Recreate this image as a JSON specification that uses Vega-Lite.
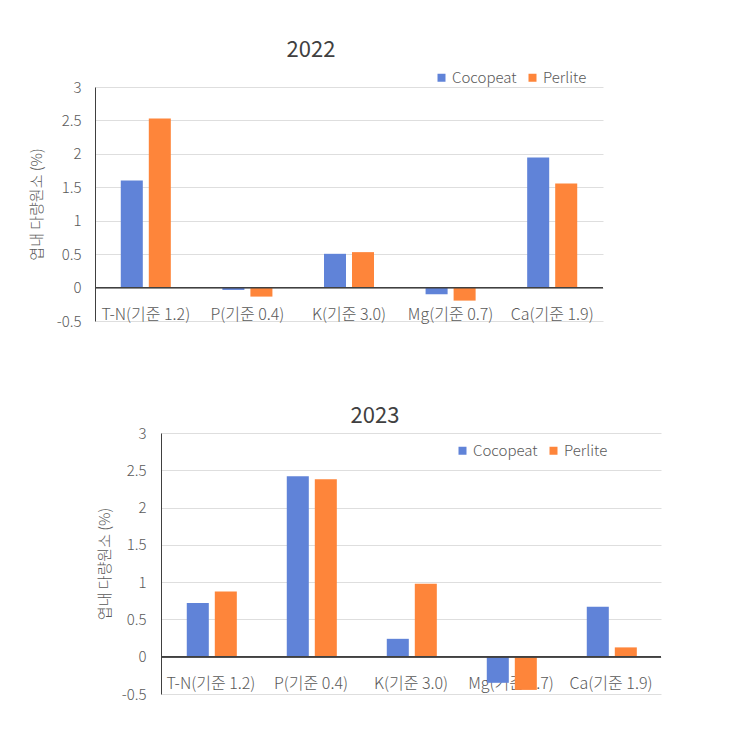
{
  "$schema": "https://vega.github.io/schema/vega-lite/v6.json",
  "background": "white",
  "padding": {"top": 39, "left": 29, "right": 5, "bottom": 5},
  "config": {
    "font": "Noto Sans CJK KR",
    "view": {"stroke": null},
    "axis": {"labelColor": "#595959", "labelFontSize": 15, "labelFontWeight": 300, "titleColor": "#595959", "titleFontSize": 15, "titleFontWeight": 300, "labelOverlap": false, "gridColor": "#dedede"},
    "axisX": {"labelFontSize": 16},
    "legend": {"labelColor": "#595959", "labelFontSize": 15, "labelFontWeight": 300, "symbolType": "square", "symbolSize": 64, "symbolStrokeWidth": 0, "labelOffset": 3, "columnPadding": 8, "padding": 0, "direction": "horizontal"},
    "title": {"fontSize": 22, "fontWeight": "normal", "color": "#404040", "anchor": "middle"}
  },
  "datasets": {
    "y2022": [
      {"nutrient": "T-N(기준 1.2)", "media": "Cocopeat", "value": 1.6},
      {"nutrient": "T-N(기준 1.2)", "media": "Perlite", "value": 2.53},
      {"nutrient": "P(기준 0.4)", "media": "Cocopeat", "value": -0.035},
      {"nutrient": "P(기준 0.4)", "media": "Perlite", "value": -0.135},
      {"nutrient": "K(기준 3.0)", "media": "Cocopeat", "value": 0.505},
      {"nutrient": "K(기준 3.0)", "media": "Perlite", "value": 0.53},
      {"nutrient": "Mg(기준 0.7)", "media": "Cocopeat", "value": -0.1},
      {"nutrient": "Mg(기준 0.7)", "media": "Perlite", "value": -0.195},
      {"nutrient": "Ca(기준 1.9)", "media": "Cocopeat", "value": 1.945},
      {"nutrient": "Ca(기준 1.9)", "media": "Perlite", "value": 1.555}
    ],
    "y2023": [
      {"nutrient": "T-N(기준 1.2)", "media": "Cocopeat", "value": 0.72},
      {"nutrient": "T-N(기준 1.2)", "media": "Perlite", "value": 0.875},
      {"nutrient": "P(기준 0.4)", "media": "Cocopeat", "value": 2.42},
      {"nutrient": "P(기준 0.4)", "media": "Perlite", "value": 2.38},
      {"nutrient": "K(기준 3.0)", "media": "Cocopeat", "value": 0.24},
      {"nutrient": "K(기준 3.0)", "media": "Perlite", "value": 0.98},
      {"nutrient": "Mg(기준 0.7)", "media": "Cocopeat", "value": -0.35},
      {"nutrient": "Mg(기준 0.7)", "media": "Perlite", "value": -0.445},
      {"nutrient": "Ca(기준 1.9)", "media": "Cocopeat", "value": 0.67},
      {"nutrient": "Ca(기준 1.9)", "media": "Perlite", "value": 0.125}
    ]
  },
  "resolve": {"scale": {"color": "independent"}, "legend": {"color": "independent"}},
  "spacing": 76,
  "vconcat": [
    {
      "width": 508,
      "height": 234,
      "title": {"text": "2022", "dx": -38, "offset": 8},
      "data": {"name": "y2022"},
      "layer": [
        {
          "mark": {"type": "bar"},
          "encoding": {
            "x": {"field": "nutrient", "type": "nominal", "sort": null,
                  "scale": {"paddingInner": 0, "paddingOuter": 0},
                  "axis": {"title": null, "labelAngle": 0, "domain": false, "ticks": false, "labelPadding": -15, "labelBaseline": "top"}},
            "xOffset": {"field": "media", "type": "nominal", "scale": {"paddingInner": 0.214, "paddingOuter": 0.92}},
            "y": {"field": "value", "type": "quantitative",
                  "scale": {"domain": [-0.5, 3], "nice": false, "zero": false},
                  "axis": {"title": "엽내 다량원소 (%)", "values": [-0.5, 0, 0.5, 1, 1.5, 2, 2.5, 3], "tickCount": 20, "labelExpr": "'' + datum.value", "ticks": false, "labelPadding": 14, "titlePadding": 12, "domain": true, "domainColor": "#404040"}},
            "color": {"field": "media", "type": "nominal",
                      "scale": {"domain": ["Cocopeat", "Perlite"], "range": ["#6083D8", "#FE853A"]},
                      "legend": {"title": null, "orient": "none", "legendX": 339, "legendY": -17}}
          }
        },
        {
          "mark": {"type": "rule", "color": "#404040", "strokeWidth": 1},
          "encoding": {"y": {"datum": 0}}
        }
      ]
    },
    {
      "spacing": 0,
      "hconcat": [
        {"width": 2, "height": 10, "data": {"values": []}, "mark": "point"},
        {
          "width": 500,
          "height": 261,
          "title": {"text": "2023", "dx": -36, "offset": -2},
          "data": {"name": "y2023"},
          "layer": [
            {
              "mark": {"type": "bar"},
              "encoding": {
                "x": {"field": "nutrient", "type": "nominal", "sort": null,
                      "scale": {"paddingInner": 0, "paddingOuter": 0},
                      "axis": {"title": null, "labelAngle": 0, "domain": false, "ticks": false, "labelPadding": -19, "labelBaseline": "top"}},
                "xOffset": {"field": "media", "type": "nominal", "scale": {"paddingInner": 0.23, "paddingOuter": 0.88}},
                "y": {"field": "value", "type": "quantitative",
                      "scale": {"domain": [-0.5, 3], "nice": false, "zero": false},
                      "axis": {"title": "엽내 다량원소 (%)", "values": [-0.5, 0, 0.5, 1, 1.5, 2, 2.5, 3], "tickCount": 20, "labelExpr": "'' + datum.value", "ticks": false, "labelPadding": 15, "titlePadding": 9, "domain": true, "domainColor": "#404040"}},
                "color": {"field": "media", "type": "nominal",
                          "scale": {"domain": ["Cocopeat", "Perlite"], "range": ["#6083D8", "#FE853A"]},
                          "legend": {"title": null, "orient": "none", "legendX": 360, "legendY": 10}}
              }
            },
            {
              "mark": {"type": "rule", "color": "#404040", "strokeWidth": 1},
              "encoding": {"y": {"datum": 0}}
            }
          ]
        }
      ]
    }
  ]
}
